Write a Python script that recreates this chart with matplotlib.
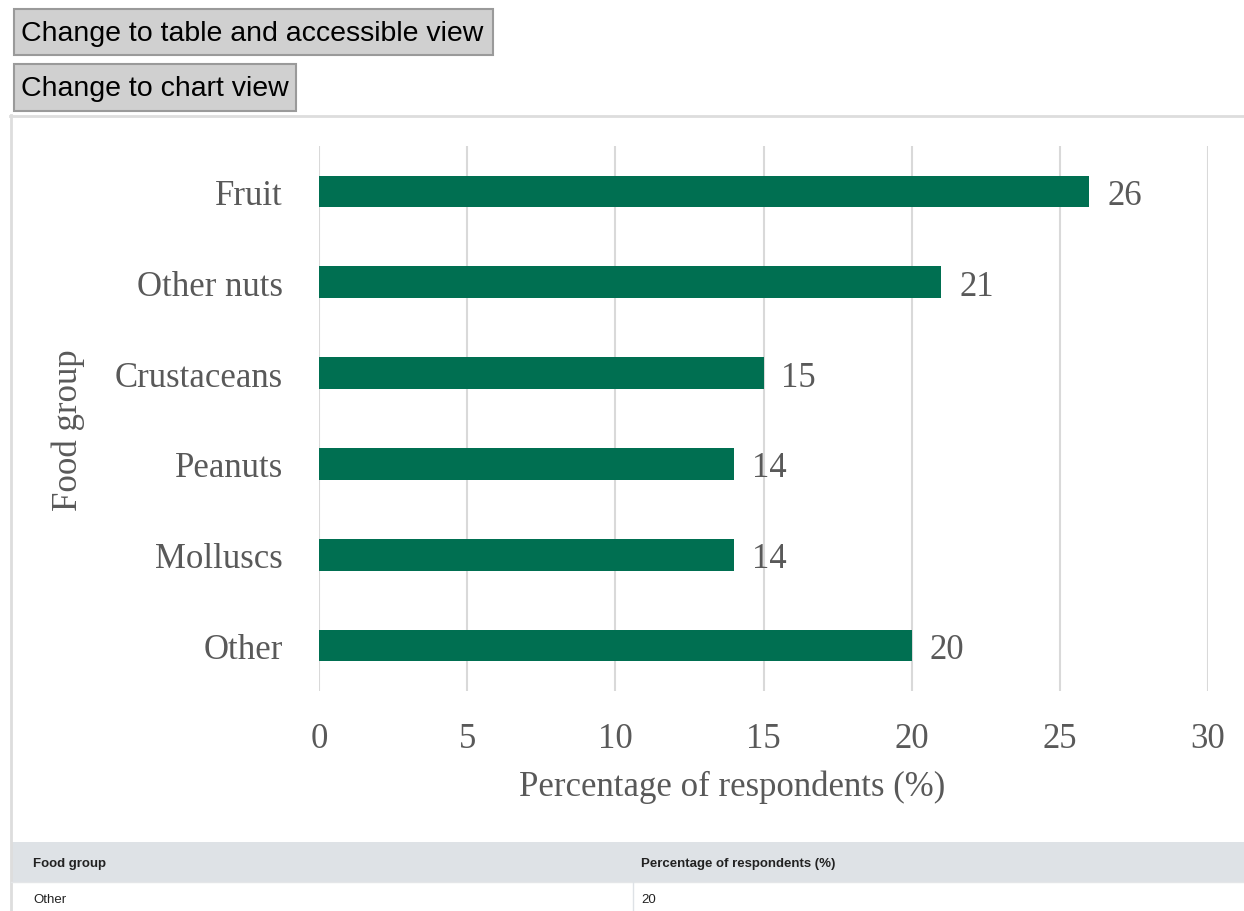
import matplotlib.pyplot as plt
from matplotlib.patches import Rectangle

# Food groups, top to bottom, with share of respondents (%)
food_groups = ["Fruit", "Other nuts", "Crustaceans", "Peanuts", "Molluscs", "Other"]
percentages = [26, 21, 15, 14, 14, 20]
x_ticks = [0, 5, 10, 15, 20, 25, 30]

table_header = ["Food group", "Percentage of respondents (%)"]
table_row = ["Other", "20"]

W, H = 1244, 912
BAR_COLOR = "#006f51"
TEXT_GREY = "#595959"
SERIF = "Liberation Serif"
SANS = "Liberation Sans"
FS = 25

fig = plt.figure(figsize=(W / 100, H / 100), dpi=100)

# page layer in pixel coordinates (buttons, container, table)
page = fig.add_axes([0, 0, 1, 1], zorder=0)
page.set_xlim(0, W)
page.set_ylim(H, 0)
page.axis("off")

def button(x0, y0, x1, y1, label):
    page.add_patch(Rectangle((x0, y0), x1 - x0, y1 - y0, facecolor="#d0d0d0",
                             edgecolor="#9a9a9a", linewidth=1.5))
    page.text(x0 + 7, (y0 + y1) / 2 + 1, label, ha="left", va="center",
              fontsize=20.5, family=SANS, color="black")

button(14, 10, 493, 56, "Change to table and accessible view")
button(14, 65, 296, 112, "Change to chart view")

# chart container border
page.plot([10, W], [116.5, 116.5], color="#dddddd", lw=2)
page.plot([10.5, 10.5], [116, H], color="#dddddd", lw=2)

# data table below the chart
page.add_patch(Rectangle((11, 843), W - 11, 40, facecolor="#dee2e6",
                         edgecolor="none"))
page.plot([11, W], [883, 883], color="#e4e6e8", lw=1)
page.plot([633, 633], [883, H], color="#dee2e6", lw=1)
page.text(33, 864, table_header[0], ha="left", va="center", fontsize=9.5,
          family=SANS, fontweight="bold", color="#222222")
page.text(641, 864, table_header[1], ha="left", va="center", fontsize=9.5,
          family=SANS, fontweight="bold", color="#222222")
page.text(33, 900, table_row[0], ha="left", va="center", fontsize=9.5,
          family=SANS, color="#222222")
page.text(641, 900, table_row[1], ha="left", va="center", fontsize=9.5,
          family=SANS, color="#222222")

# bar chart
ax = fig.add_axes([319 / W, 1 - 692 / H, (1208 - 319) / W, (692 - 147) / H],
                  zorder=1)
ax.patch.set_alpha(0)
ypos = list(range(len(food_groups)))
ax.barh(ypos, percentages, height=0.35, color=BAR_COLOR, zorder=2)
ax.set_ylim(len(food_groups) - 0.5, -0.5)
ax.set_xlim(0, 30)

ax.set_xticks(x_ticks)
ax.set_xticklabels([str(t) for t in x_ticks], fontsize=FS, family=SERIF,
                   color=TEXT_GREY)
ax.set_yticks(ypos)
ax.set_yticklabels(food_groups, fontsize=FS, family=SERIF, color=TEXT_GREY)
ax.tick_params(axis="both", length=0)
ax.tick_params(axis="x", pad=22)
ax.tick_params(axis="y", pad=26)

ax.grid(True, axis="x", color="#d9d9d9", lw=1.5, zorder=0)
ax.set_axisbelow(True)
for s in ax.spines.values():
    s.set_visible(False)

for y, v in zip(ypos, percentages):
    ax.text(v + 0.6, y, str(v), ha="left", va="center_baseline", fontsize=FS,
            family=SERIF, color=TEXT_GREY)

fig.text(732 / W, 1 - 787 / H, "Percentage of respondents (%)", ha="center",
         va="center", fontsize=FS, family=SERIF, color=TEXT_GREY)
fig.text(68 / W, 1 - 430 / H, "Food group", ha="center", va="center",
         rotation=90, fontsize=FS, family=SERIF, color=TEXT_GREY)

fig.savefig("out.png", dpi=100)
